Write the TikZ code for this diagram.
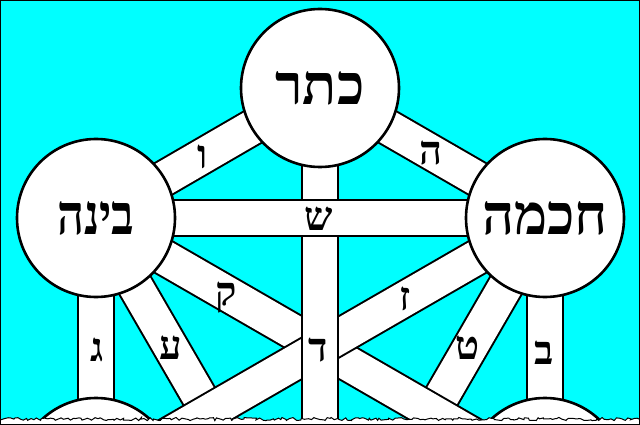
\documentclass[tikz,border=0pt]{standalone}
\usepackage{fontspec}
\newfontfamily\hebfont[Script=Hebrew]{Liberation Serif}
\newfontfamily\hebnarrow[Script=Hebrew,FakeStretch=0.84]{Liberation Serif}
\TeXXeTstate=1
\usetikzlibrary{decorations.pathmorphing}
\definecolor{skycyan}{RGB}{0,255,255}
\pgfdeclarelayer{bg}
\pgfdeclarelayer{fg}
\pgfsetlayers{bg,main,fg}
\begin{document}
\begin{tikzpicture}[x=1pt,y=-1pt,
  sefira/.style={circle, draw=black, line width=2.6pt, fill=white,
    minimum size=158pt, inner sep=0pt,
    font=\hebfont\bfseries\fontsize{56}{56}\selectfont},
  narrowtext/.style={font=\hebnarrow\bfseries\fontsize{56}{56}\selectfont},
  bar/.style={draw=black, line width=2pt, double=white, double distance=34pt},
  letter/.style={inner sep=0pt, font=\hebfont\bfseries\fontsize{40}{40}\selectfont},
  ground/.style={fill=white, draw=black, line width=1pt,
    decorate, decoration={random steps, segment length=2.5pt, amplitude=1.6pt}}
]
\useasboundingbox (0,0) rectangle (640,425);
\clip (0,0) rectangle (640,425);

% sefirot
\node[sefira] (keter) at (320,88) {\beginR כתר\endR};
\node[sefira, narrowtext] (binah) at (96,218) {\beginR בינה\endR};
\node[sefira] (chokhmah) at (545,218) {\beginR חכמה\endR};
\node[sefira] (gevurah) at (96,477) {};
\node[sefira] (chesed) at (545,477) {};

% free ends of paths running off the bottom
\coordinate (ayinEnd) at (221,434);
\coordinate (tetEnd) at (420,434);
\coordinate (qofEnd) at (486,443);
\coordinate (zayinEnd) at (155,443);
\coordinate (daletEnd) at (320,445);

\begin{pgfonlayer}{bg}
  \fill[skycyan] (0,0) rectangle (640,425);
  \draw[bar] (binah.center) -- (ayinEnd);
  \draw[bar] (chokhmah.center) -- (tetEnd);
  \draw[bar] (binah.center) -- (qofEnd);
  \draw[bar] (chokhmah.center) -- (zayinEnd);
  \draw[bar] (binah.center) -- (gevurah.center);
  \draw[bar] (chokhmah.center) -- (chesed.center);
  \draw[bar] (keter.center) -- (daletEnd);
  \draw[bar] (keter.center) -- (binah.center);
  \draw[bar] (keter.center) -- (chokhmah.center);
  \draw[bar] (binah.center) -- (chokhmah.center);
\end{pgfonlayer}

% letters of the paths
\node[letter] (vav) at (203,157) {ו};
\node[letter] (he) at (431,153) {ה};
\node[letter] (shin) at (319,219) {ש};
\node[letter] (qof) at (226,298) {ק};
\node[letter] (zayin) at (405,299) {ז};
\node[letter] (ayin) at (171,348) {ע};
\node[letter] (tet) at (468,348) {ט};
\node[letter] (gimel) at (97,350) {ג};
\node[letter] (bet) at (544,353) {ב};
\node[letter] (dalet) at (318,350) {ד};

\begin{pgfonlayer}{fg}
  \pgfmathsetseed{11}
  \path[ground] (-10,419) -- (650,419) -- (650,445) -- (-10,445) -- cycle;
  \draw[line width=2pt] (0,0) rectangle (640,425);
\end{pgfonlayer}
\end{tikzpicture}
\end{document}
